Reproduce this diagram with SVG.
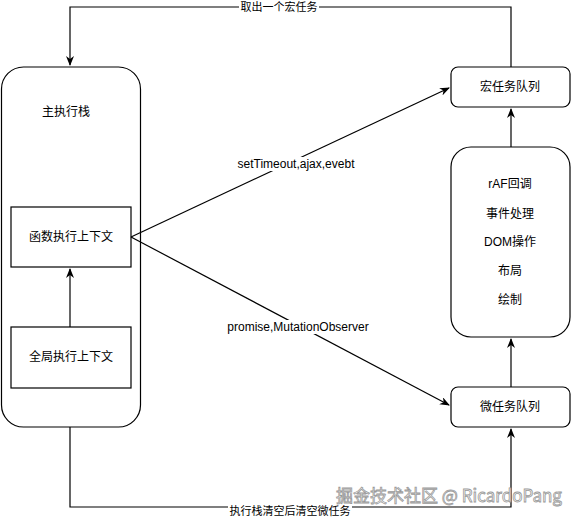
<svg xmlns="http://www.w3.org/2000/svg" width="571" height="518" viewBox="0 0 571 518">
<style>
.box{fill:#fff;stroke:#000;stroke-width:1.2}
.t{font-family:"Liberation Sans","Noto Sans CJK SC",sans-serif;font-size:12px;fill:#000;text-anchor:middle;dominant-baseline:central}
.lbl{font-family:"Liberation Sans","Noto Sans CJK SC",sans-serif;font-size:12px;fill:#000;text-anchor:middle;dominant-baseline:central}
.cl{font-size:11px}
.edge{fill:none;stroke:#000;stroke-width:1.2}
.wm{font-family:"Noto Sans CJK SC","DejaVu Sans",sans-serif;font-size:17px;fill:#fff;stroke:#999;stroke-width:0.8;text-anchor:start;dominant-baseline:central}
</style>
<defs>
<marker id="arr" viewBox="0 0 10 8" refX="9" refY="4" markerWidth="10" markerHeight="8" markerUnits="userSpaceOnUse" orient="auto">
<path d="M0,0 L10,4 L0,8 L3,4 z" fill="#000"/>
</marker>
</defs>
<rect width="571" height="518" fill="#fff"/>
<g id="main-stack">
<rect class="box" x="1.5" y="67" width="139" height="360" rx="22"/>
<text class="t" x="66" y="112">主执行栈</text>
</g>
<g id="func-ctx">
<rect class="box" x="11" y="207" width="120" height="60"/>
<text class="t" x="71" y="237">函数执行上下文</text>
</g>
<g id="global-ctx">
<rect class="box" x="11" y="327" width="120" height="61"/>
<text class="t" x="71" y="357">全局执行上下文</text>
</g>
<g id="macro-queue">
<rect class="box" x="451" y="67" width="119" height="40" rx="7"/>
<text class="t" x="510" y="87">宏任务队列</text>
</g>
<g id="render">
<rect class="box" x="451" y="147" width="119" height="190" rx="20"/>
<text class="t" x="510" y="184">rAF回调</text>
<text class="t" x="510" y="214">事件处理</text>
<text class="t" x="510" y="242">DOM操作</text>
<text class="t" x="510" y="271">布局</text>
<text class="t" x="510" y="300">绘制</text>
</g>
<g id="micro-queue">
<rect class="box" x="451" y="387" width="119" height="40" rx="7"/>
<text class="t" x="510" y="407">微任务队列</text>
</g>
<g id="connectors">
<path class="edge" d="M511,67 V7 H70 V65" marker-end="url(#arr)"/>
<path class="edge" d="M70,427 V507 H511 V429" marker-end="url(#arr)"/>
<path class="edge" d="M70,327 V269" marker-end="url(#arr)"/>
<path class="edge" d="M131,237 L449,88" marker-end="url(#arr)"/>
<path class="edge" d="M131,237 L449,405" marker-end="url(#arr)"/>
<path class="edge" d="M511,147 V109" marker-end="url(#arr)"/>
<path class="edge" d="M511,387 V339" marker-end="url(#arr)"/>
<rect x="239" y="0" width="80" height="14" fill="#fff"/>
<text class="lbl cl" x="279" y="7">取出一个宏任务</text>
<rect x="228" y="504" width="124" height="14" fill="#fff"/>
<text class="lbl cl" x="290" y="511">执行栈清空后清空微任务</text>
<rect x="235" y="157" width="122" height="14" fill="#fff"/>
<text class="lbl" x="296" y="164">setTimeout,ajax,evebt</text>
<rect x="231" y="320" width="134" height="14" fill="#fff"/>
<text class="lbl" x="298" y="327">promise,MutationObserver</text>
</g>
<text class="wm" x="336" y="494">掘金技术社区 @ RicardoPang</text>
</svg>
